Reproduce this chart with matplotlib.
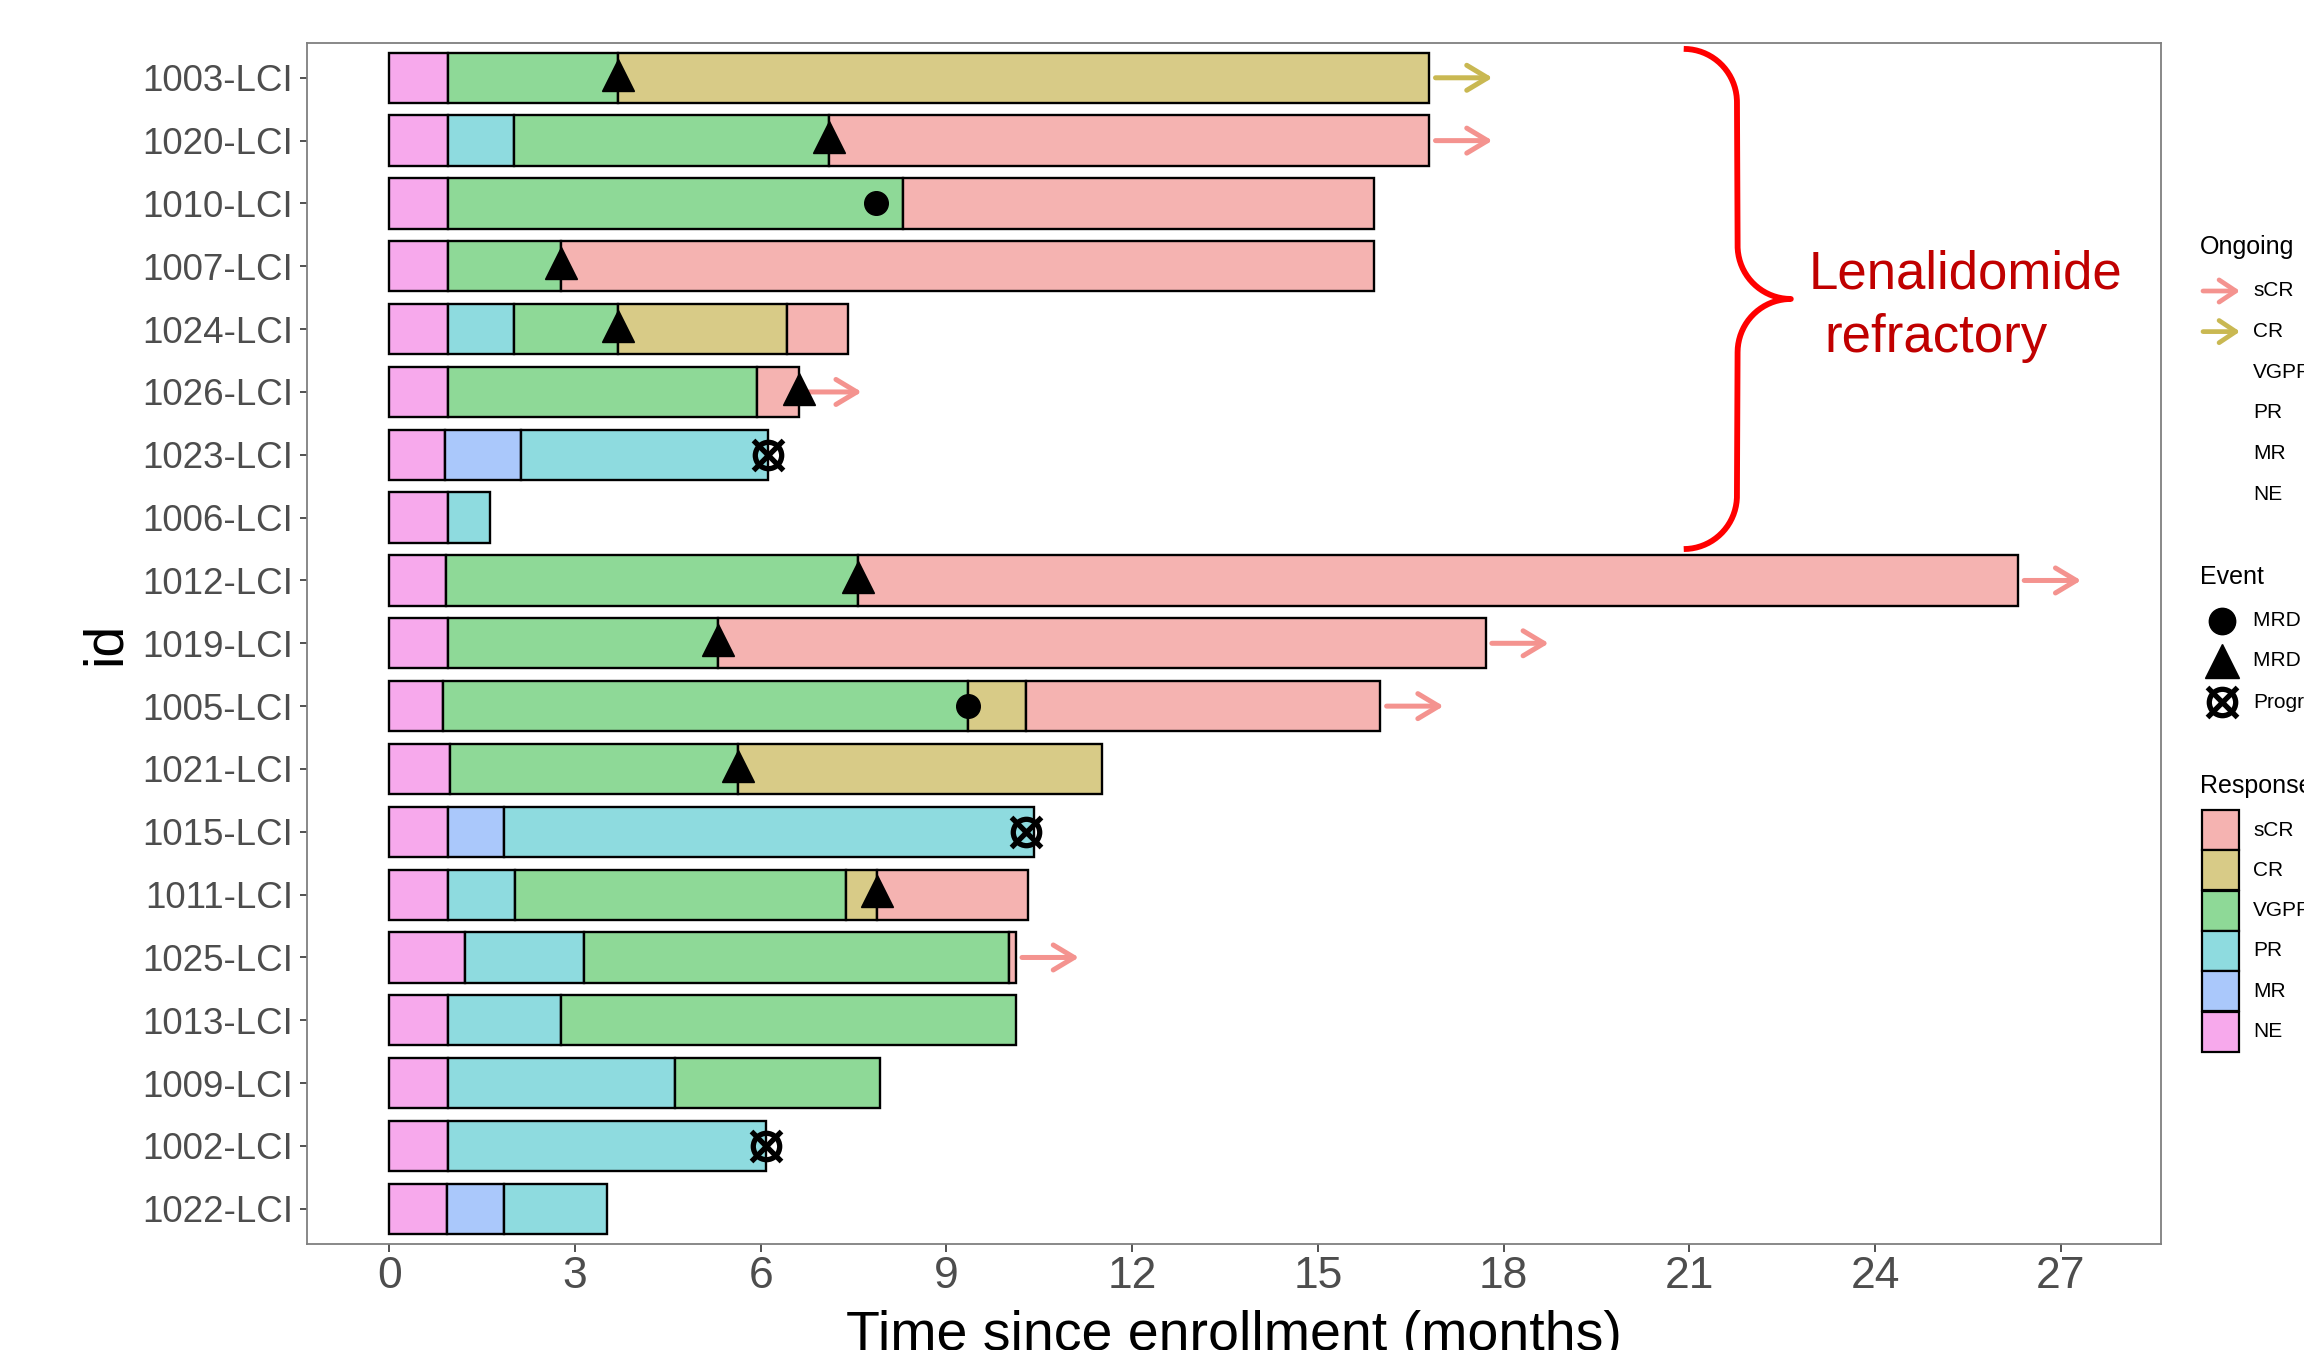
import numpy as np
import matplotlib
matplotlib.use("Agg")
import matplotlib.pyplot as plt
from matplotlib import font_manager
from matplotlib.patches import Rectangle

# ---- data ----
ids = ["1003-LCI", "1020-LCI", "1010-LCI", "1007-LCI", "1024-LCI", "1026-LCI",
       "1023-LCI", "1006-LCI", "1012-LCI", "1019-LCI", "1005-LCI", "1021-LCI",
       "1015-LCI", "1011-LCI", "1025-LCI", "1013-LCI", "1009-LCI", "1002-LCI",
       "1022-LCI"]

seg_resp = [
    ["NE", "VGPR", "CR"],
    ["NE", "PR", "VGPR", "sCR"],
    ["NE", "VGPR", "sCR"],
    ["NE", "VGPR", "sCR"],
    ["NE", "PR", "VGPR", "CR", "sCR"],
    ["NE", "VGPR", "sCR"],
    ["NE", "MR", "PR"],
    ["NE", "PR"],
    ["NE", "VGPR", "sCR"],
    ["NE", "VGPR", "sCR"],
    ["NE", "VGPR", "CR", "sCR"],
    ["NE", "VGPR", "CR"],
    ["NE", "MR", "PR"],
    ["NE", "PR", "VGPR", "CR", "sCR"],
    ["NE", "PR", "VGPR", "sCR"],
    ["NE", "PR", "VGPR"],
    ["NE", "PR", "VGPR"],
    ["NE", "PR"],
    ["NE", "MR", "PR"],
]
seg_end = [
    [0.94, 3.70, 16.80],
    [0.94, 2.02, 7.11, 16.80],
    [0.94, 8.30, 15.91],
    [0.94, 2.78, 15.91],
    [0.94, 2.02, 3.70, 6.42, 7.41],
    [0.94, 5.94, 6.61],
    [0.90, 2.12, 6.11],
    [0.94, 1.62],
    [0.91, 7.57, 26.31],
    [0.94, 5.31, 17.71],
    [0.87, 9.34, 10.29, 16.01],
    [0.98, 5.64, 11.52],
    [0.94, 1.86, 10.42],
    [0.94, 2.03, 7.38, 7.87, 10.32],
    [1.23, 3.14, 10.01, 10.12],
    [0.94, 2.78, 10.12],
    [0.94, 4.62, 7.92],
    [0.94, 6.08],
    [0.93, 1.86, 3.52],
]

# events: (row id, event type, time)
ev_id = ["1003-LCI", "1020-LCI", "1010-LCI", "1007-LCI", "1024-LCI", "1026-LCI",
         "1023-LCI", "1012-LCI", "1019-LCI", "1005-LCI", "1021-LCI", "1015-LCI",
         "1011-LCI", "1002-LCI"]
ev_type = ["neg", "neg", "pos", "neg", "neg", "neg", "prog", "neg", "neg", "pos",
           "neg", "prog", "neg", "prog"]
ev_time = [3.70, 7.11, 7.86, 2.78, 3.70, 6.61, 6.11, 7.57, 5.31, 9.34, 5.64, 10.28,
           7.87, 6.08]

ongoing_id = ["1003-LCI", "1020-LCI", "1026-LCI", "1012-LCI", "1019-LCI", "1005-LCI",
              "1025-LCI"]
ongoing_resp = ["CR", "sCR", "sCR", "sCR", "sCR", "sCR", "sCR"]

resp_levels = ["sCR", "CR", "VGPR", "PR", "MR", "NE"]
event_labels = ["MRD positive", "MRD negative", "Progression"]

fill = {"sCR": "#F5B3B1", "CR": "#D8CB87", "VGPR": "#8ED997", "PR": "#8EDBDF",
        "MR": "#AAC8FB", "NE": "#F7A9EC"}
arrow_col = {"sCR": "#F4938F", "CR": "#C9B852"}

# ---- fonts ----
names = {f.name for f in font_manager.fontManager.ttflist}
base = "Liberation Sans" if "Liberation Sans" in names else "DejaVu Sans"
if "Liberation Sans Narrow" in names:
    narrow, xt_size = "Liberation Sans Narrow", 37
else:
    narrow, xt_size = base, 32
plt.rcParams["font.family"] = [base, "DejaVu Sans"]

fig = plt.figure(figsize=(23.04, 13.5), dpi=100)
ax = fig.add_axes([307 / 2304, 1 - 1244 / 1350, (2161 - 307) / 2304, (1244 - 42.6) / 1350])

row = {pid: i + 1 for i, pid in enumerate(ids)}

for pid, resp, ends in zip(ids, seg_resp, seg_end):
    y = row[pid]
    start = 0.0
    for r, e in zip(resp, ends):
        ax.barh(y, e - start, left=start, height=0.8, color=fill[r],
                edgecolor="black", linewidth=1.7, zorder=2)
        start = e

for pid, r in zip(ongoing_id, ongoing_resp):
    y = row[pid]
    end = seg_end[ids.index(pid)][-1]
    ax.annotate("", xy=(end + 1.02, y), xytext=(end + 0.1, y),
                arrowprops=dict(arrowstyle="->,head_length=0.75,head_width=0.45",
                                color=arrow_col[r], lw=3.6, shrinkA=0, shrinkB=0,
                                mutation_scale=20), zorder=3)

for pid, t, tm in zip(ev_id, ev_type, ev_time):
    y = row[pid]
    if t == "neg":
        ax.plot(tm, y - 0.05, marker="^", ms=23, color="black", ls="none", zorder=5)
    elif t == "pos":
        ax.plot(tm, y, marker="o", ms=17, color="black", ls="none", zorder=5)
    else:
        ax.plot(tm, y, marker="o", ms=19, mfc="none", mec="black", mew=3.8, ls="none", zorder=5)
        ax.plot(tm, y, marker="x", ms=21, mec="black", mew=3.8, ls="none", zorder=5)

ax.set_xlim(-1.33, 28.62)
ax.set_ylim(19.56, 0.44)
ax.set_xticks(np.arange(0, 28, 3))
ax.set_yticks(range(1, len(ids) + 1))
ax.set_yticklabels(ids)
ax.tick_params(axis="y", labelsize=26.5, labelcolor="#4D4D4D", length=5, width=1.2,
               color="#333333", pad=5)
ax.tick_params(axis="x", labelsize=xt_size, labelcolor="#4D4D4D", length=6, width=1.2,
               color="#333333", pad=3)
for lab in ax.get_xticklabels():
    lab.set_family([narrow, "DejaVu Sans"])
for s in ax.spines.values():
    s.set_color("#7F7F7F")
    s.set_linewidth(1.3)

ax.set_ylabel("id", fontsize=40)
ax.yaxis.set_label_coords(-0.0945, 0.5)
xl = ax.set_xlabel("Time since enrollment (months)", fontsize=40)
xl.set_va("baseline")
ax.xaxis.set_label_coords(0.5, (1244 - 1350) / 1201.4)

# brace for lenalidomide-refractory patients (rows 1-8)
b_top, b_bot = 0.54, 8.50
b_left, b_mid = 20.91, 21.77
b_tip = 22.64
b_cy = (b_top + b_bot) / 2
rx, ry = b_mid - b_left, 0.85
t = np.linspace(0, np.pi / 2, 40)
x1 = b_left + rx * np.sin(t); y1 = (b_top + ry) - ry * np.cos(t)
x2 = b_tip - rx * np.cos(t); y2 = (b_cy - ry) + ry * np.sin(t)
bx = np.concatenate([x1, x2, x2[::-1], x1[::-1]])
by = np.concatenate([y1, y2, 2 * b_cy - y2[::-1], 2 * b_cy - y1[::-1]])
ax.plot(bx, by, color="#FF0000", lw=4.2, solid_capstyle="butt", zorder=4, clip_on=False)
ax.text(22.93, 4.36, "Lenalidomide", color="#C00000", fontsize=38, va="baseline", ha="left")
ax.text(23.19, 5.37, "refractory", color="#C00000", fontsize=38, va="baseline", ha="left")

# ---- legends (pixel coordinates, clipped at right edge like the original) ----
lax = fig.add_axes([0, 0, 1, 1], facecolor="none")
lax.set_xlim(0, 2304)
lax.set_ylim(1350, 0)
lax.axis("off")
kx0, kx1, tx = 2203, 2240, 2253

lax.text(2200, 247, "Ongoing", fontsize=18, va="center", ha="left")
for i, r in enumerate(resp_levels):
    yy = 291 + i * 40.6
    if r in arrow_col:
        lax.annotate("", xy=(kx1, yy), xytext=(kx0, yy),
                     arrowprops=dict(arrowstyle="->,head_length=0.6,head_width=0.4",
                                     color=arrow_col[r], lw=3.4, shrinkA=0, shrinkB=0,
                                     mutation_scale=20))
    lax.text(tx, yy, r, fontsize=15, va="center", ha="left")

lax.text(2200, 577, "Event", fontsize=18, va="center", ha="left")
ev_y = [621, 661, 702]
lax.plot((kx0 + kx1) / 2, ev_y[0], marker="o", ms=19, color="black")
lax.plot((kx0 + kx1) / 2, ev_y[1], marker="^", ms=25, color="black")
lax.plot((kx0 + kx1) / 2, ev_y[2], marker="o", ms=19, mfc="none", mec="black", mew=3.8)
lax.plot((kx0 + kx1) / 2, ev_y[2], marker="x", ms=21, mec="black", mew=3.8)
for yy, lab in zip(ev_y, event_labels):
    lax.text(tx, yy, lab, fontsize=15, va="center", ha="left")

lax.text(2200, 786, "Response", fontsize=18, va="center", ha="left")
for i, r in enumerate(resp_levels):
    yy = 830 + i * 40.3
    lax.add_patch(Rectangle((2202, yy - 20), 37, 40, facecolor=fill[r],
                            edgecolor="black", lw=1.6))
    lax.text(tx, yy, r, fontsize=15, va="center", ha="left")

fig.savefig("out.png", dpi=100)
